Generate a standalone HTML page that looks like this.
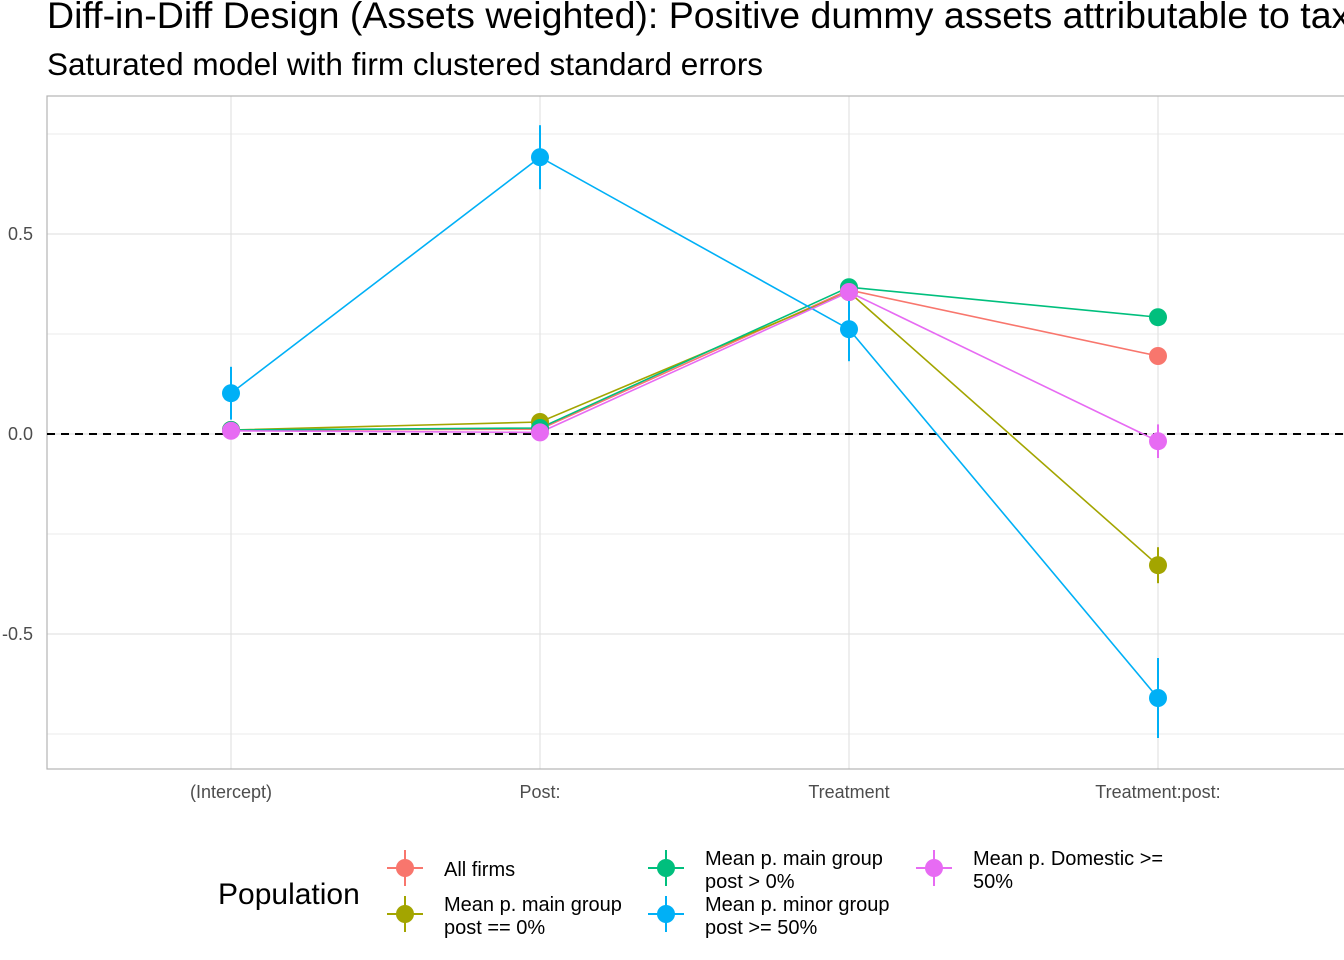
<!DOCTYPE html>
<html><head><meta charset="utf-8">
<style>
html,body{margin:0;padding:0;background:#fff;width:1344px;height:960px;overflow:hidden;font-family:"Liberation Sans",Arial,sans-serif}
</style></head>
<body>
<svg id="chart" width="1344" height="960" xmlns="http://www.w3.org/2000/svg">
<text x="47" y="28" font-size="37.5" fill="#000">Diff-in-Diff Design (Assets weighted): Positive dummy assets attributable to tax havens</text>
<text x="47" y="75" font-size="31.5" fill="#000">Saturated model with firm clustered standard errors</text>
<g id="grid"></g>
<g id="marks"></g>
<g id="legend">
<text x="218" y="904" font-size="30" fill="#000">Population</text>
</g>
</svg>
<script>
const categories = ["(Intercept)", "Post:", "Treatment", "Treatment:post:"];
const seriesNames = ["All firms", "Mean p. main group post == 0%", "Mean p. main group post > 0%", "Mean p. minor group post >= 50%", "Mean p. Domestic >= 50%"];
const seriesColors = ["#F8766D", "#A3A500", "#00BF7D", "#00B0F6", "#E76BF3"];
const allFirms = [0.01, 0.012, 0.36, 0.195];
const mainZero = [0.01, 0.03, 0.355, -0.328];
const mainPos = [0.01, 0.015, 0.367, 0.292];
const minor50 = [0.102, 0.692, 0.262, -0.66];
const domestic50 = [0.008, 0.004, 0.355, -0.018];
const allFirmsSE = [0.01, 0.01, 0.02, 0.02];
const mainZeroSE = [0.01, 0.01, 0.02, 0.045];
const mainPosSE = [0.01, 0.01, 0.02, 0.02];
const minor50SE = [0.066, 0.08, 0.08, 0.1];
const domestic50SE = [0.01, 0.01, 0.02, 0.042];
const yTicks = [-0.5, 0, 0.5];
const yTickLabels = ["-0.5", "0.0", "0.5"];
const yMinor = [-0.75, -0.25, 0.25, 0.75];

const NS = "http://www.w3.org/2000/svg";
const panel = {x0: 47, x1: 1344, y0: 96, y1: 769};
const xScale = i => 231 + i * 309;
const yScale = v => 434 - v * 400;
function mk(tag, attrs, parent) {
  const el = document.createElementNS(NS, tag);
  for (const k in attrs) el.setAttribute(k, attrs[k]);
  parent.appendChild(el);
  return el;
}
const grid = document.getElementById("grid");
yMinor.forEach(v => {
  const l = mk("line", {x1: panel.x0, x2: panel.x1, y1: yScale(v), y2: yScale(v), stroke: "#ebebeb", "stroke-width": 1}, grid);
  
  
});
yTicks.forEach((v, i) => {
  const l = mk("line", {x1: panel.x0, x2: panel.x1, y1: yScale(v), y2: yScale(v), stroke: "#dedede", "stroke-width": 1}, grid);
  
  
  const t = mk("text", {x: 33, y: yScale(v) + 6, "font-size": 18, "text-anchor": "end", fill: "#4d4d4d"}, grid);
  t.textContent = yTickLabels[i];
  
  
});
categories.forEach((c, i) => {
  const l = mk("line", {x1: xScale(i), x2: xScale(i), y1: panel.y0, y2: panel.y1, stroke: "#dedede", "stroke-width": 1}, grid);
  
  
  const t = mk("text", {x: xScale(i), y: 798, "font-size": 18, "text-anchor": "middle", fill: "#4d4d4d"}, grid);
  t.textContent = c;
  
  
});
const border = mk("rect", {x: panel.x0, y: panel.y0, width: panel.x1 - panel.x0 + 5, height: panel.y1 - panel.y0, fill: "none", stroke: "#b3b3b3", "stroke-width": 1.2}, grid);


const zl = mk("line", {x1: panel.x0, x2: panel.x1, y1: yScale(0), y2: yScale(0), stroke: "#000", "stroke-width": 2, "stroke-dasharray": "8,6"}, grid);



const marks = document.getElementById("marks");
const allSeries = [allFirms, mainZero, mainPos, minor50, domestic50];
const allSE = [allFirmsSE, mainZeroSE, mainPosSE, minor50SE, domestic50SE];
allSeries.forEach((s, si) => {
  const col = seriesColors[si];
  const pts = s.map((v, i) => xScale(i) + "," + yScale(v)).join(" ");
  const pl = mk("polyline", {points: pts, fill: "none", stroke: col, "stroke-width": 1.6}, marks);
  
  
});
allSeries.forEach((s, si) => {
  const col = seriesColors[si];
  s.forEach((v, i) => {
    const se = allSE[si][i];
    const e = mk("line", {x1: xScale(i), x2: xScale(i), y1: yScale(v + se), y2: yScale(v - se), stroke: col, "stroke-width": 2}, marks);
    
    
    const c = mk("circle", {cx: xScale(i), cy: yScale(v), r: 9, fill: col}, marks);
    
    
  });
});

const legend = document.getElementById("legend");
const legendPos = [[405, 868], [405, 914], [666, 868], [666, 914], [934, 868]];
const legendLines = [["All firms"], ["Mean p. main group", "post == 0%"], ["Mean p. main group", "post > 0%"], ["Mean p. minor group", "post >= 50%"], ["Mean p. Domestic >=", "50%"]];
legendPos.forEach((p, i) => {
  const col = seriesColors[i];
  const g = mk("g", {}, legend);
  
  
  mk("line", {x1: p[0] - 18, x2: p[0] + 18, y1: p[1], y2: p[1], stroke: col, "stroke-width": 2}, g);
  mk("line", {x1: p[0], x2: p[0], y1: p[1] - 18, y2: p[1] + 18, stroke: col, "stroke-width": 2}, g);
  mk("circle", {cx: p[0], cy: p[1], r: 9, fill: col}, g);
  const lines = legendLines[i];
  lines.forEach((txt, k) => {
    const y = lines.length === 1 ? p[1] + 8 : p[1] - 3 + k * 23;
    const t = mk("text", {x: p[0] + 39, y: y, "font-size": 20, fill: "#000"}, g);
    t.textContent = txt;
  });
});
</script>
</body></html>
